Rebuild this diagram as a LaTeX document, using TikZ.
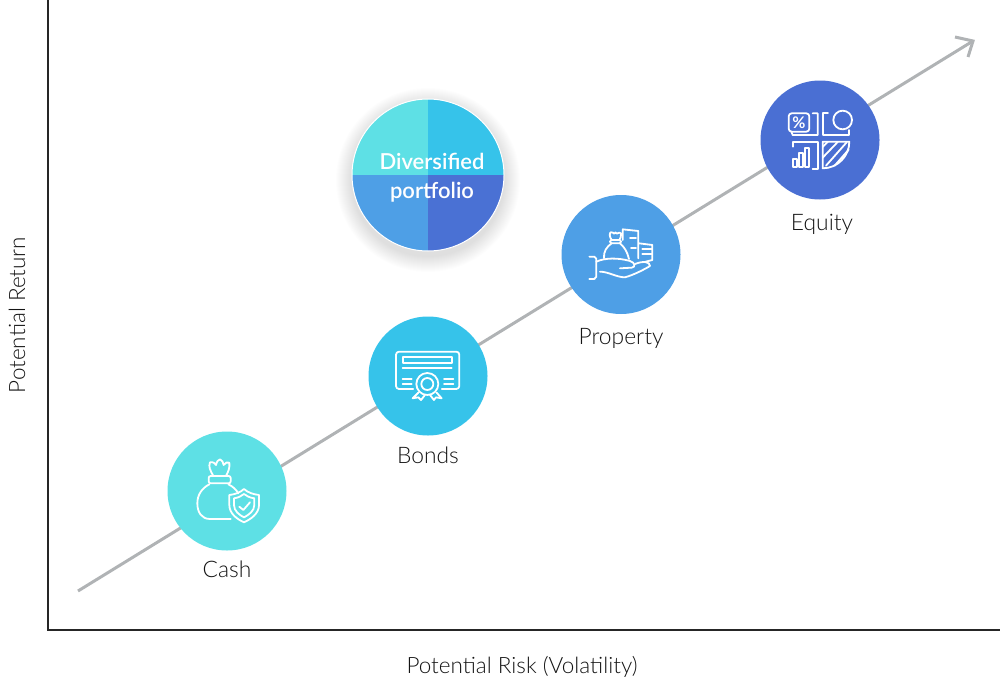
\documentclass[tikz,border=0pt]{standalone}
\usepackage{fontspec}
\setmainfont{Lato}[UprightFont=* Light,BoldFont=* Bold]
\newfontfamily\mediumfont{Lato}[UprightFont=* Semibold]
\definecolor{CashTeal}{RGB}{94, 224, 229}
\definecolor{BondsCyan}{RGB}{54, 195, 234}
\definecolor{PropertyBlue}{RGB}{78, 159, 230}
\definecolor{EquityBlue}{RGB}{74, 111, 211}
\definecolor{TrendGray}{RGB}{176, 179, 181}
\usetikzlibrary{positioning}
\tikzset{
  assetcircle/.style={circle, minimum size=119pt, inner sep=0pt},
  assetlabel/.style={font=\fontsize{22.8}{26}\selectfont, text=black!92, inner sep=0pt, text height=16pt, text depth=5pt},
  axislabel/.style={font=\fontsize{22.5}{26}\selectfont, text=black!92, inner sep=0pt},
  iconline/.style={draw=white, line width=1.8pt, line join=round, line cap=round, fill=none},
}
\begin{document}
\begin{tikzpicture}[x=1pt, y=-1pt]
    \useasboundingbox (0,0) rectangle (1000,680);
    % axes
    \coordinate (axistop) at (48,0);
    \coordinate (origin) at (48,630);
    \coordinate (axisright) at (1000,630);
    \draw[line width=1.3pt, black!85] (axistop) -- (origin) -- (axisright);
    \node[axislabel, rotate=90] (returnlabel) at (17,315) {Potential Return};
    \node[axislabel] (risklabel) at (522,666.5) {Potential Risk (Volatility)};

    % trend line
    \coordinate (trendstart) at (78,591);
    \coordinate (trendend) at (973,41);
    \coordinate (barbleft) at (955,37);
    \coordinate (barbright) at (968,57);
    \draw[line width=3pt, TrendGray] (trendstart) -- (trendend);
    \draw[line width=3pt, TrendGray] (barbleft) -- (trendend) -- (barbright);

    % assets
    \node[assetcircle, fill=CashTeal] (cash) at (227,491) {};
    \node[assetcircle, fill=BondsCyan] (bonds) at (428,376) {};
    \node[assetcircle, fill=PropertyBlue] (property) at (621,254.5) {};
    \node[assetcircle, fill=EquityBlue] (equity) at (820,140) {};
    \node[assetlabel, below=11pt of cash] (cashlabel) {Cash};
    \node[assetlabel, below=12pt of bonds] (bondslabel) {Bonds};
    \node[assetlabel, below=14pt of property] (propertylabel) {Property};
    \node[assetlabel, below=15pt of equity, xshift=2pt] (equitylabel) {Equity};

    % diversified portfolio
    \foreach \r in {77,78,...,92}
      \fill[black, opacity=0.006] (428,180) circle[radius=\r];
    \node[circle, minimum size=152pt, inner sep=0pt, draw=white, line width=1pt, fill=white,
      path picture={
        \fill[CashTeal] (0,0) rectangle (-80,-80);
        \fill[BondsCyan] (0,0) rectangle (80,-80);
        \fill[PropertyBlue] (0,0) rectangle (-80,80);
        \fill[EquityBlue!95!PropertyBlue] (0,0) rectangle (80,80);
      }] (diversified) at (428,175) {};
    \node[align=center, text=white, inner sep=0pt, font=\mediumfont\fontsize{22}{29}\selectfont] (diversifiedtext) at (432,178) {Diversified\\portfolio};

    % cash icon
    \begin{scope}[shift={(160,425)}, x=0.3333pt, y=-0.3333pt]
      \draw[iconline] (148,178) .. controls (125,190) and (112,210) .. (112,235) .. controls (112,262) and (125,282) .. (150,282) -- (212,282);
      \draw[iconline] (205,178) .. controls (218,184) and (228,193) .. (235,205);
      \draw[iconline, rounded corners=2pt] (146,153) rectangle (212,175);
      \draw[iconline] (160,153) .. controls (150,135) and (145,125) .. (150,112) .. controls (160,110) and (165,115) .. (168,120) .. controls (170,110) and (175,103) .. (180,103) .. controls (186,105) and (190,112) .. (191,120) .. controls (195,113) and (202,110) .. (208,113) .. controls (210,128) and (205,140) .. (198,153);
      \draw[iconline] (252,192) .. controls (240,203) and (225,208) .. (208,210) -- (208,240) .. controls (208,265) and (230,282) .. (252,292) .. controls (274,282) and (297,265) .. (297,240) -- (297,210) .. controls (280,208) and (264,203) .. (252,192);
      \draw[iconline] (252,207) .. controls (244,214) and (234,218) .. (222,220) -- (222,240) .. controls (222,258) and (238,270) .. (252,277) .. controls (266,270) and (283,258) .. (283,240) -- (283,220) .. controls (270,218) and (260,214) .. (252,207);
      \draw[iconline] (238,245) -- (250,255) -- (270,232);
    \end{scope}

    % bonds icon
    \begin{scope}[shift={(360,310)}, x=0.3333pt, y=-0.3333pt]
      \draw[iconline, rounded corners=3pt] (160,237) -- (108,237) -- (108,125) -- (298,125) -- (298,237) -- (245,237);
      \draw[iconline] (128,142) rectangle (275,160);
      \draw[iconline] (128,175) -- (275,175);
      \draw[iconline] (128,207) -- (155,207);
      \draw[iconline] (128,222) -- (155,222);
      \draw[iconline] (252,207) -- (280,207);
      \draw[iconline] (252,222) -- (280,222);
      \draw[iconline] (202,222) circle[radius=33];
      \draw[iconline] (202,222) circle[radius=18];
      \draw[iconline] (175,248) -- (158,265) -- (175,262) -- (183,270) -- (195,255);
      \draw[iconline] (230,248) -- (245,265) -- (228,262) -- (222,270) -- (210,255);
    \end{scope}

    % property icon
    \begin{scope}[shift={(555,190)}, x=0.3333pt, y=-0.3333pt]
      \draw[iconline] (103,200) -- (118,200) -- (124,206) -- (124,260) -- (118,267) -- (103,267);
      \draw[iconline] (124,215) .. controls (150,203) and (190,203) .. (225,213) .. controls (240,217) and (243,232) .. (230,233) -- (195,235);
      \draw[iconline] (135,245) .. controls (160,245) and (185,262) .. (210,262) .. controls (235,255) and (265,240) .. (285,228) .. controls (285,215) and (265,212) .. (240,222);
      \draw[iconline] (170,160) .. controls (155,170) and (145,185) .. (147,205);
      \draw[iconline] (195,160) .. controls (207,170) and (217,185) .. (222,207);
      \draw[iconline, rounded corners=2pt] (165,150) rectangle (198,160);
      \draw[iconline] (170,150) .. controls (163,140) and (163,130) .. (167,127) .. controls (172,126) and (175,128) .. (177,131) .. controls (179,126) and (184,126) .. (186,131) .. controls (190,127) and (196,127) .. (198,130) .. controls (199,138) and (197,145) .. (193,150);
      \draw[iconline] (203,150) -- (203,118) -- (250,123) -- (250,205);
      \draw[iconline] (225,143) -- (243,143);
      \draw[iconline] (228,175) -- (243,175);
      \draw[iconline] (252,160) -- (292,165) -- (292,210) -- (272,215);
      \draw[iconline] (262,178) -- (290,178);
      \draw[iconline] (262,192) -- (290,192);
    \end{scope}

    % equity icon
    \begin{scope}[shift={(752,75)}, x=0.3333pt, y=-0.3333pt]
      \draw[iconline, rounded corners=3pt] (110,115) rectangle (172,170);
      \node[text=white, inner sep=0pt, font=\bfseries\fontsize{16}{16}\selectfont] (percent) at (141,142) {\%};
      \draw[iconline] (182,115) -- (197,115) -- (197,180) -- (122,180) -- (118,170);
      \draw[iconline] (228,115) -- (212,115) -- (212,180) -- (290,180) -- (290,165);
      \draw[iconline] (272,135) circle[radius=28];
      \draw[iconline] (122,215) -- (122,200) -- (197,200) -- (197,282) -- (182,282);
      \draw[iconline] (212,200) -- (292,200) arc[start angle=0, end angle=90, radius=80] -- cycle;
      \draw[iconline] (228,200) -- (212,216);
      \draw[iconline] (258,200) -- (212,248);
      \draw[iconline] (284,202) -- (222,272);
      \draw[iconline] (290,224) -- (248,272);
      \draw[iconline] (122,252) rectangle (135,275);
      \draw[iconline] (142,235) rectangle (153,275);
      \draw[iconline] (160,218) rectangle (172,275);
    \end{scope}
\end{tikzpicture}
\end{document}
